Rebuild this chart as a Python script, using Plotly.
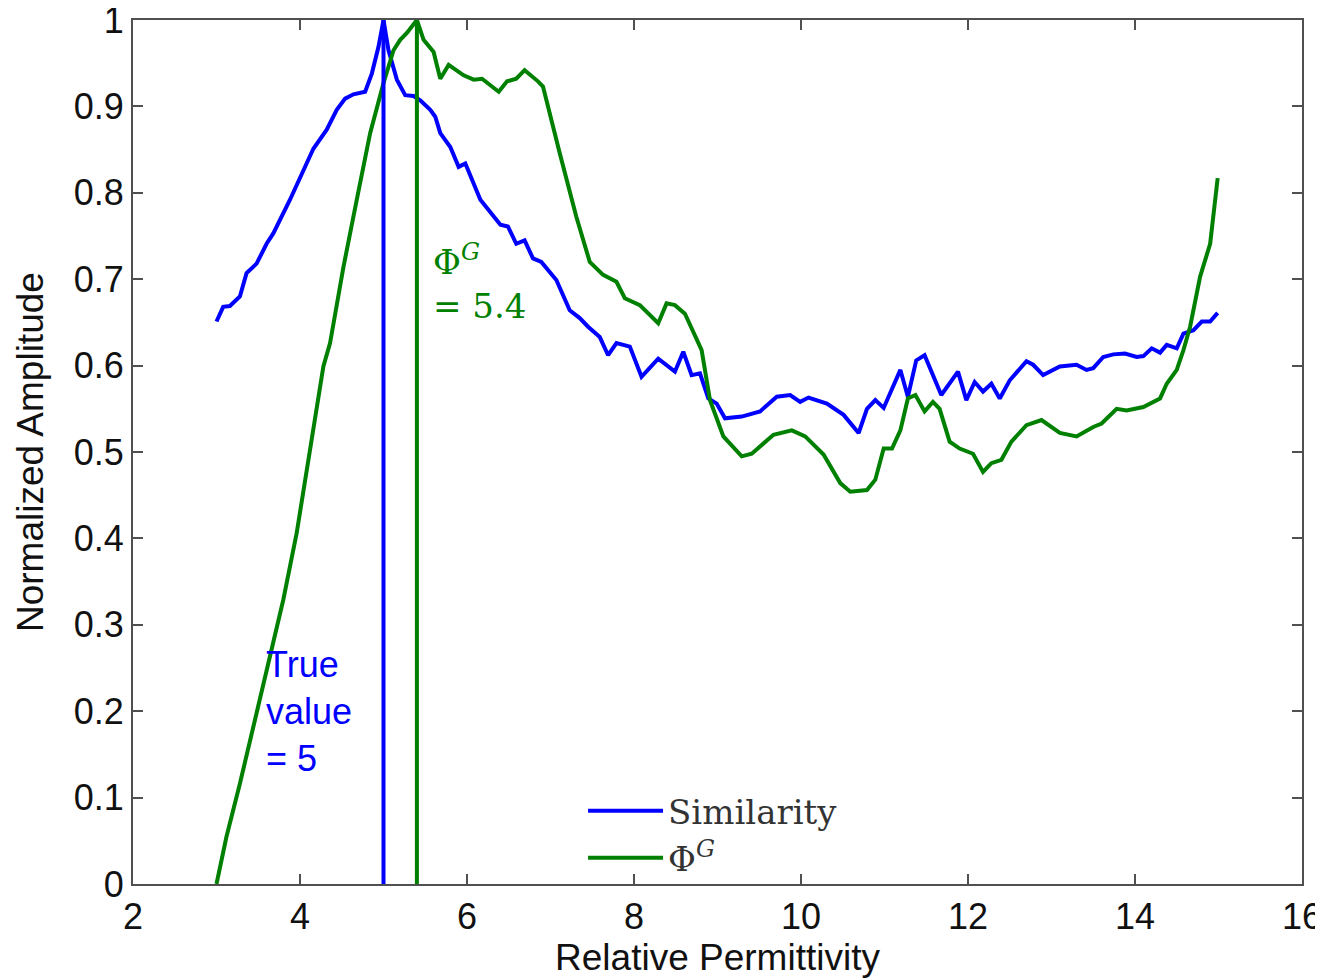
import plotly.graph_objects as go

# Similarity curve (blue)
sim_x = [3.0, 3.08, 3.16, 3.28, 3.36, 3.48, 3.60, 3.68, 3.88, 4.04, 4.16, 4.32, 4.44, 4.54, 4.64, 4.78, 4.86, 4.94, 5.0,
         5.06, 5.16, 5.26, 5.36, 5.44, 5.56, 5.62, 5.68, 5.80, 5.90, 5.98, 6.16, 6.40, 6.49, 6.59, 6.69, 6.79, 6.89,
         7.07, 7.23, 7.35, 7.45, 7.59, 7.69, 7.79, 7.95, 8.09, 8.29, 8.49, 8.59, 8.69, 8.79, 8.89, 8.99, 9.09, 9.29,
         9.51, 9.71, 9.87, 9.99, 10.09, 10.31, 10.51, 10.69, 10.79, 10.89, 10.99, 11.19, 11.28, 11.38, 11.48, 11.68,
         11.88, 11.98, 12.08, 12.18, 12.28, 12.38, 12.50, 12.70, 12.78, 12.90, 13.10, 13.30, 13.42, 13.50, 13.62,
         13.74, 13.88, 14.02, 14.10, 14.20, 14.30, 14.38, 14.50, 14.58, 14.70, 14.80, 14.90, 14.99]
sim_y = [0.651, 0.668, 0.669, 0.680, 0.707, 0.718, 0.741, 0.753, 0.792, 0.826, 0.851, 0.873, 0.896, 0.909, 0.914, 0.917,
         0.938, 0.969, 1.0, 0.965, 0.931, 0.913, 0.912, 0.907, 0.896, 0.888, 0.869, 0.853, 0.830, 0.834, 0.792, 0.763,
         0.761, 0.741, 0.745, 0.724, 0.720, 0.699, 0.664, 0.655, 0.645, 0.633, 0.612, 0.626, 0.622, 0.587, 0.608,
         0.593, 0.616, 0.589, 0.591, 0.562, 0.556, 0.539, 0.541, 0.547, 0.564, 0.566, 0.558, 0.563, 0.556, 0.543,
         0.522, 0.550, 0.560, 0.551, 0.595, 0.564, 0.606, 0.612, 0.566, 0.593, 0.560, 0.581, 0.570, 0.579, 0.562,
         0.583, 0.605, 0.601, 0.589, 0.599, 0.601, 0.595, 0.597, 0.610, 0.613, 0.614, 0.610, 0.611, 0.620, 0.615,
         0.624, 0.620, 0.637, 0.641, 0.651, 0.651, 0.661]

# Phi^G curve (green)
phi_x = [3.0, 3.12, 3.28, 3.60, 3.80, 3.96, 4.10, 4.28, 4.36, 4.52, 4.68, 4.84, 5.0, 5.12, 5.20, 5.28, 5.40, 5.48,
         5.60, 5.68, 5.78, 5.96, 6.08, 6.18, 6.38, 6.48, 6.59, 6.69, 6.85, 6.91, 7.11, 7.31, 7.47, 7.63, 7.79, 7.89,
         8.07, 8.29, 8.39, 8.49, 8.61, 8.81, 8.91, 9.07, 9.29, 9.41, 9.67, 9.89, 10.05, 10.27, 10.47, 10.59, 10.79,
         10.89, 10.99, 11.09, 11.19, 11.28, 11.37, 11.48, 11.58, 11.66, 11.78, 11.90, 12.06, 12.18, 12.28, 12.40,
         12.52, 12.70, 12.88, 13.10, 13.30, 13.50, 13.60, 13.78, 13.90, 14.10, 14.30, 14.38, 14.50, 14.58, 14.66,
         14.78, 14.90, 14.99]
phi_y = [0.0, 0.055, 0.116, 0.248, 0.329, 0.406, 0.491, 0.599, 0.626, 0.714, 0.792, 0.869, 0.927, 0.965, 0.977, 0.985,
         1.0, 0.977, 0.963, 0.932, 0.948, 0.936, 0.931, 0.932, 0.917, 0.929, 0.932, 0.942, 0.929, 0.923, 0.846, 0.772,
         0.720, 0.705, 0.697, 0.678, 0.670, 0.649, 0.672, 0.670, 0.660, 0.618, 0.560, 0.518, 0.495, 0.498, 0.520,
         0.525, 0.518, 0.497, 0.464, 0.454, 0.456, 0.468, 0.504, 0.504, 0.525, 0.562, 0.566, 0.547, 0.558, 0.550,
         0.512, 0.504, 0.498, 0.477, 0.487, 0.491, 0.512, 0.531, 0.537, 0.522, 0.518, 0.529, 0.533, 0.550, 0.548,
         0.552, 0.562, 0.579, 0.595, 0.618, 0.645, 0.703, 0.741, 0.817]

true_value = 5.0
phi_peak = 5.4

x_ticks = [2, 4, 6, 8, 10, 12, 14, 16]
y_ticks = [0, 0.1, 0.2, 0.3, 0.4, 0.5, 0.6, 0.7, 0.8, 0.9, 1]
y_tick_text = ["0", "0.1", "0.2", "0.3", "0.4", "0.5", "0.6", "0.7", "0.8", "0.9", "1"]

BLUE = "#0000FF"
GREEN = "#008000"
SANS = "Liberation Sans, Arial, Helvetica"
SERIF = "DejaVu Serif, serif"

fig = go.Figure()
fig.add_trace(go.Scatter(x=sim_x, y=sim_y, mode="lines", name="Similarity",
                         line=dict(color=BLUE, width=4)))
fig.add_trace(go.Scatter(x=phi_x, y=phi_y, mode="lines", name="Φ<sup><i>G</i></sup>",
                         line=dict(color=GREEN, width=4)))
fig.add_trace(go.Scatter(x=[true_value, true_value], y=[0, 1], mode="lines", showlegend=False,
                         line=dict(color=BLUE, width=4)))
fig.add_trace(go.Scatter(x=[phi_peak, phi_peak], y=[0, 1], mode="lines", showlegend=False,
                         line=dict(color=GREEN, width=4)))

fig.add_annotation(x=3.57, y=0.28, xref="x", yref="y", xanchor="left", yanchor="top",
                   text="True<br>value<br>= 5", showarrow=False, align="left",
                   font=dict(family=SANS, size=36, color=BLUE))
fig.add_annotation(x=5.57, y=0.75, xref="x", yref="y", xanchor="left", yanchor="top",
                   text="Φ<sup><i>G</i></sup><br>= 5.4", showarrow=False, align="left",
                   font=dict(family=SERIF, size=34, color=GREEN))

# y-axis title placed as an annotation to match the reference position
fig.add_annotation(x=-103 / 1169, y=0.5, xref="paper", yref="paper", xanchor="center", yanchor="middle",
                   text="Normalized Amplitude", textangle=-90, showarrow=False,
                   font=dict(family=SANS, size=37, color="#111111"))

axis_common = dict(showline=True, linecolor="#505050", linewidth=2, mirror="ticks",
                   ticks="inside", ticklen=10, tickwidth=1.5, tickcolor="#505050",
                   showgrid=False, zeroline=False, automargin=False,
                   ticklabeloverflow="allow",
                   tickfont=dict(family=SANS, size=36, color="#111111"))

fig.update_layout(
    width=1323, height=978,
    margin=dict(l=125, r=29, t=12, b=102),
    paper_bgcolor="white", plot_bgcolor="white",
    showlegend=True,
    legend=dict(x=0.385, y=0.118, xanchor="left", yanchor="top",
                bgcolor="rgba(0,0,0,0)", itemwidth=75, tracegroupgap=0,
                font=dict(family=SERIF, size=34, color="#333333")),
    xaxis=dict(range=[2, 16], tickvals=x_ticks,
               title=dict(text="Relative Permittivity", standoff=0,
                          font=dict(family=SANS, size=37, color="#111111")),
               **axis_common),
    yaxis=dict(range=[0, 1], tickvals=y_ticks, ticktext=y_tick_text,
               **axis_common),
)

fig.write_html("out.html")
